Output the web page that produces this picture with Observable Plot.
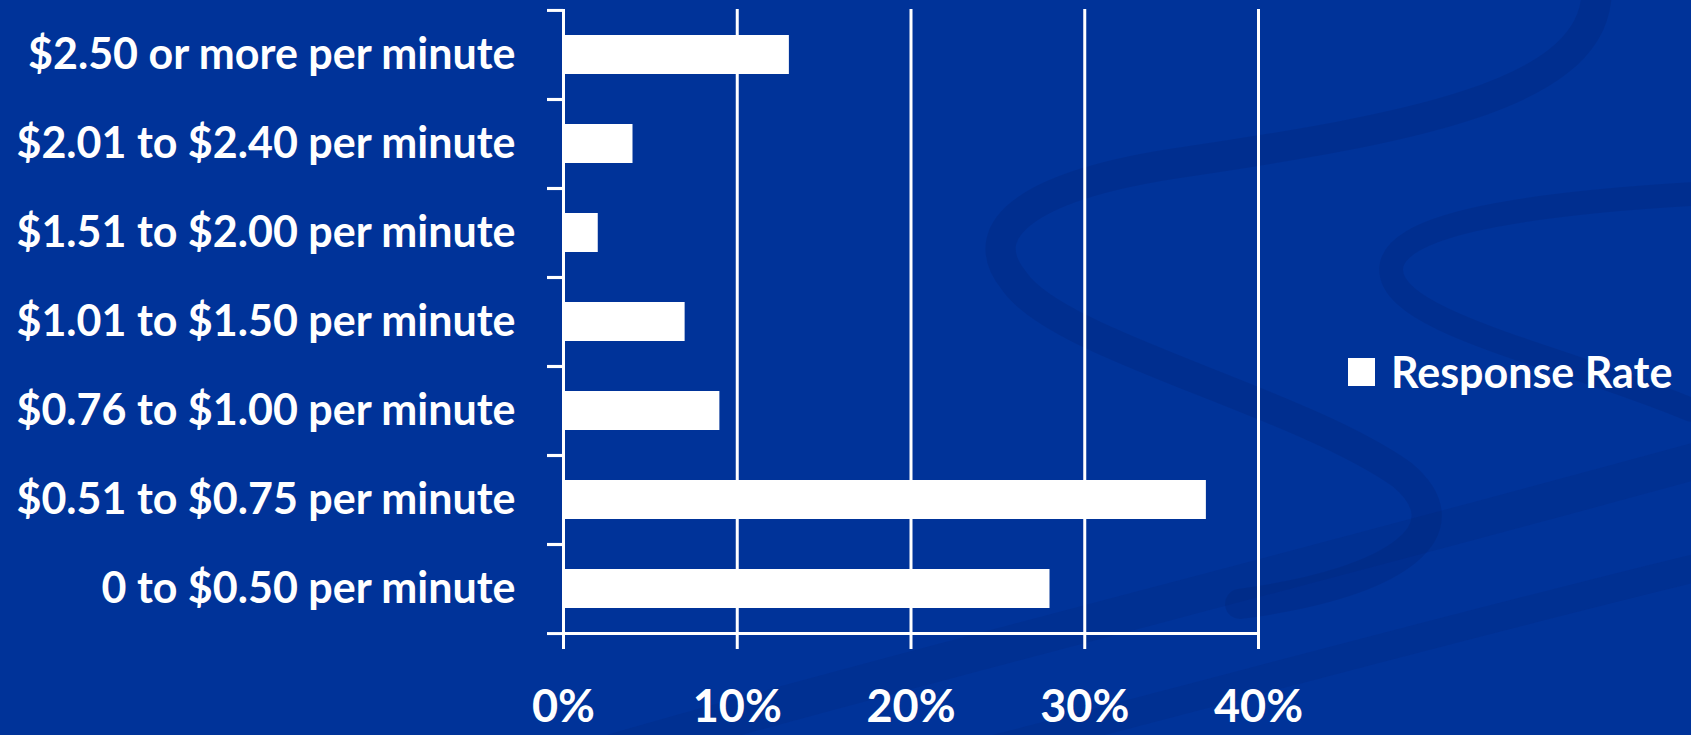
<!DOCTYPE html>
<html>
<head>
<meta charset="utf-8">
<script src="https://cdn.jsdelivr.net/npm/d3@7"></script>
<script src="https://cdn.jsdelivr.net/npm/@observablehq/plot@0.6"></script>
<style>
  html, body { margin: 0; padding: 0; background: #003399; overflow: hidden; }
  #wrap { position: relative; width: 1691px; height: 735px; background: #003399; }
  #deco { position: absolute; left: 0; top: 0; }
  #chart { position: absolute; left: 0; top: 0; }
  #legend { position: absolute; left: 1348px; top: 358px; display: flex; align-items: center;
            font-family: Lato, "Open Sans", sans-serif; font-weight: bold; font-size: 43px; color: #fff; }
  #legend .sw { width: 27px; height: 28px; background: #fff; }
  #legend .lb { margin-left: 16px; line-height: 28px; }
</style>
</head>
<body>
<div id="wrap">
  <svg id="deco" width="1691" height="735" viewBox="0 0 1691 735">
    <g transform="scale(1.0784)" fill="none" stroke="#00226e" stroke-opacity="0.22" stroke-linecap="round">
      <path d="M1480,0 C1470,90 1300,120 1100,150 C960,170 900,210 940,260 C980,320 1200,370 1300,440 C1360,490 1300,540 1150,560" stroke-width="28"/>
      <path d="M1568,180 C1400,190 1290,210 1290,250 C1290,300 1450,330 1568,380" stroke-width="22"/>
      <path d="M560,700 C800,630 1200,530 1600,420" stroke-width="34" stroke-opacity="0.15"/>
      <path d="M900,700 C1100,650 1350,580 1600,520" stroke-width="26" stroke-opacity="0.15"/>
    </g>
  </svg>
  <div id="chart"></div>
  <div id="legend"><div class="sw"></div><div class="lb"></div></div>
</div>
<script>
const categories = [
  "$2.50 or more per minute",
  "$2.01 to $2.40 per minute",
  "$1.51 to $2.00 per minute",
  "$1.01 to $1.50 per minute",
  "$0.76 to $1.00 per minute",
  "$0.51 to $0.75 per minute",
  "0 to $0.50 per minute"
];
const responseRate = [0.13, 0.04, 0.02, 0.07, 0.09, 0.37, 0.28];
const xTicks = [0, 0.1, 0.2, 0.3, 0.4];
const seriesName = "Response Rate";

const data = categories.map((c, i) => ({category: c, value: responseRate[i]}));

const W = 1691, H = 735;
const mTop = 9, mBottom = 102, mLeft = 563, mRight = 433;
const bw = (H - mTop - mBottom) / categories.length;
const white = "#ffffff";

const chart = Plot.plot({
  width: W,
  height: H,
  marginTop: mTop,
  marginBottom: mBottom,
  marginLeft: mLeft,
  marginRight: mRight,
  style: {background: "transparent", color: white, fontFamily: "Lato, 'Open Sans', sans-serif", fontWeight: "bold", overflow: "visible"},
  x: {domain: [0, 0.4]},
  y: {domain: categories, padding: 0},
  marks: [
    Plot.gridX(xTicks.slice(1), {stroke: white, strokeOpacity: 1, strokeWidth: 3}),
    Plot.barX(data, {x: "value", y: "category", fill: white, insetTop: 25, insetBottom: 25}),
    Plot.ruleX([0], {stroke: white, strokeWidth: 3}),
    Plot.ruleY([categories[categories.length - 1]], {dy: bw / 2, stroke: white, strokeWidth: 3}),
    Plot.axisY({tickSize: 16, fill: "none", dy: bw / 2, stroke: white, strokeWidth: 3, label: null}),
    Plot.axisY({tickSize: 16, fill: "none", dy: -bw / 2, stroke: white, strokeWidth: 3, label: null}),
    Plot.axisY({tickSize: 0, tickPadding: 48, fontSize: 43, fontWeight: "bold", fill: white, label: null}),
    Plot.axisX({ticks: xTicks, tickFormat: d => `${Math.round(d * 100)}%`, tickSize: 16, tickPadding: 41,
                fontSize: 45, fontWeight: "bold", stroke: white, fill: white, strokeWidth: 3, label: null})
  ]
});
document.getElementById("chart").appendChild(chart);
document.querySelector("#legend .lb").textContent = seriesName;
</script>
</body>
</html>
